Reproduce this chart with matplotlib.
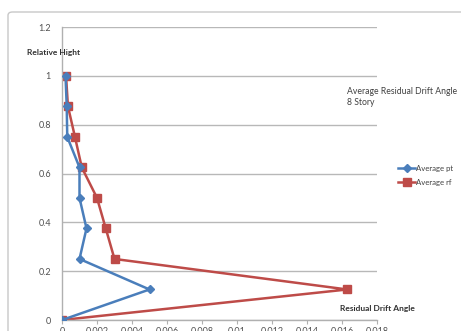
import matplotlib
matplotlib.use("Agg")
import matplotlib.pyplot as plt
from matplotlib.patches import FancyBboxPatch

heights = [0, 0.125, 0.25, 0.375, 0.5, 0.625, 0.75, 0.875, 1.0]
avg_pt = [0, 0.0050, 0.0010, 0.0014, 0.0010, 0.0010, 0.0003, 0.00027, 0.0002]
avg_rf = [0, 0.0163, 0.0030, 0.0025, 0.0020, 0.00113, 0.00074, 0.00034, 0.00023]
xticks = [0, 0.002, 0.004, 0.006, 0.008, 0.01, 0.012, 0.014, 0.016, 0.018]
xtick_labels = ["0", "0.002", "0.004", "0.006", "0.008", "0.01", "0.012", "0.014", "0.016", "0.018"]
yticks = [0, 0.2, 0.4, 0.6, 0.8, 1.0, 1.2]
ytick_labels = ["0", "0.2", "0.4", "0.6", "0.8", "1", "1.2"]

plt.rcParams['font.family'] = ['Lato', 'DejaVu Sans']

fig = plt.figure(figsize=(4.61, 3.31), dpi=100)
W, H = 461, 331
# chart area border
border = FancyBboxPatch((8 / W, -0.05), 1.2, 1 - 12 / H + 0.05,
                        boxstyle="round,pad=0,rounding_size=0.01",
                        transform=fig.transFigure, fill=False,
                        edgecolor="#c8c8c8", linewidth=1.0)
fig.patches.append(border)

ax = fig.add_axes([62 / W, 1 - 320 / H, (377 - 62) / W, (320 - 27) / H])
blue = "#4A7EBB"
red = "#BE4B48"
ax.plot(avg_pt, heights, color=blue, marker="D", markersize=4, linewidth=1.8,
        label="Average pt", zorder=3)
ax.plot(avg_rf, heights, color=red, marker="s", markersize=6, linewidth=1.8,
        label="Average rf", zorder=2)

ax.set_xlim(0, 0.018)
ax.set_ylim(0, 1.2)
ax.set_xticks(xticks)
ax.set_xticklabels(xtick_labels)
ax.set_yticks(yticks)
ax.set_yticklabels(ytick_labels)
ax.tick_params(axis="x", length=3, color="#b0b0b0", labelsize=6.5, labelcolor="#505050", pad=2)
ax.tick_params(axis="y", length=0, labelsize=6.5, labelcolor="#505050", pad=8)
ax.grid(axis="y", color="#b8b8b8", linewidth=1.0)
ax.set_axisbelow(True)
for s in ["top", "right"]:
    ax.spines[s].set_visible(False)
for s in ["left", "bottom"]:
    ax.spines[s].set_color("#b0b0b0")
    ax.spines[s].set_linewidth(1.0)

fig.text(27 / W, 1 - 52 / H, "Relative Hight", fontsize=6, fontweight="bold",
         color="#303030", va="center", ha="left")
fig.text(340 / W, 1 - 308 / H, "Residual Drift Angle", fontsize=6, fontweight="bold",
         color="#303030", va="center", ha="left")
fig.text(347 / W, 1 - 97 / H, "Average Residual Drift Angle\n8 Story", fontsize=6.2,
         color="#404040", va="center", ha="left", linespacing=1.35)

leg = fig.legend(loc="center left", bbox_to_anchor=(398 / W, 1 - 175 / H),
                 frameon=False, fontsize=5.6, handlelength=2.2, handletextpad=0.1,
                 labelspacing=0.9, borderaxespad=0, borderpad=0)
for t in leg.get_texts():
    t.set_color("#404040")

fig.savefig("out.png", dpi=100)
